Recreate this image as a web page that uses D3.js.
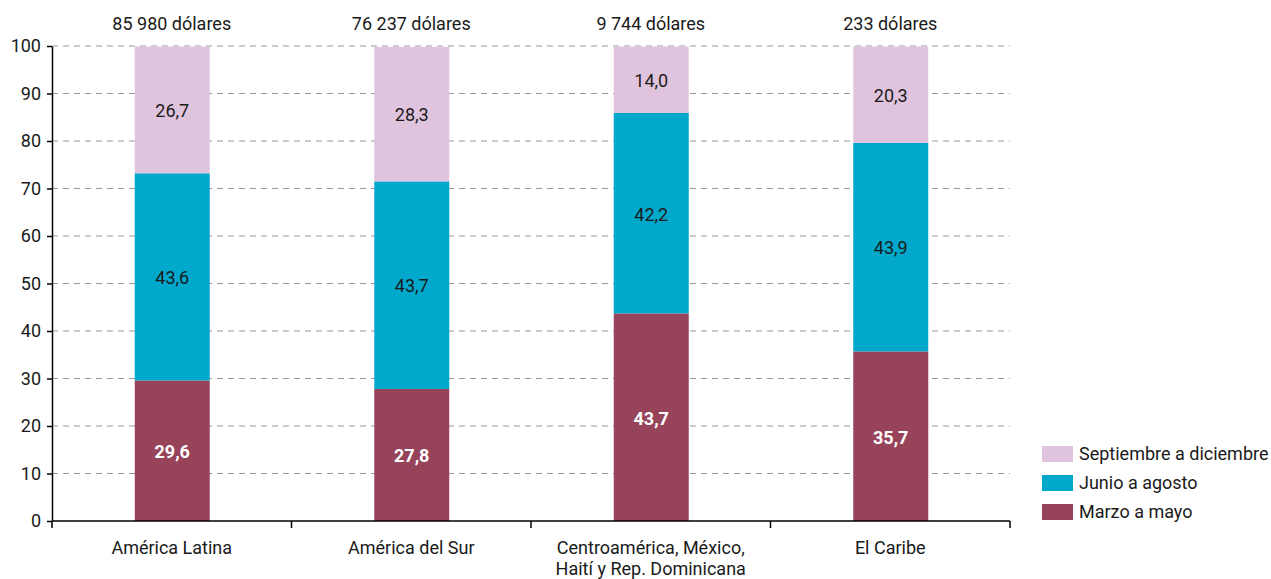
<!DOCTYPE html>
<html><head><meta charset="utf-8">
<script src="https://cdn.jsdelivr.net/npm/d3@7"></script>
<style>
body{margin:0;background:#fff;}
svg text{font-family:"Liberation Sans Narrow","Roboto",sans-serif;fill:#1a1a1a;}
</style></head>
<body><svg id="c" width="1271" height="579"></svg>
<script>
const categories = ["América Latina","América del Sur","Centroamérica, México,\nHaití y Rep. Dominicana","El Caribe"];
const totals = ["85 980 dólares","76 237 dólares","9 744 dólares","233 dólares"];
const seriesNames = ["Marzo a mayo","Junio a agosto","Septiembre a diciembre"];
const marzoMayo = [29.6, 27.8, 43.7, 35.7];
const junioAgosto = [43.6, 43.7, 42.2, 43.9];
const septDic = [26.7, 28.3, 14.0, 20.3];
const yTicks = [0,10,20,30,40,50,60,70,80,90,100];
const colors = ["#97435A","#00A8CC","#E0C4DE"];

(function(){
const svg = d3.select("#c");
const mLeft=52, mRight=1010, mTop=46, mBottom=521;
const x = d3.scaleBand().domain(categories).range([mLeft,mRight]).paddingInner(0).paddingOuter(0);
const y = d3.scaleLinear().domain([0,100]).range([mBottom,mTop]);
const barW = 75;

svg.append("g").selectAll("line").data(yTicks.filter(d=>d>0)).join("line")
  .attr("x1",mLeft).attr("x2",mRight).attr("y1",d=>y(d)).attr("y2",d=>y(d))
  .attr("stroke","#999").attr("stroke-width",1).attr("stroke-dasharray","6,5");

const rows = categories.map((c,i)=>({cat:c, m:marzoMayo[i], j:junioAgosto[i], s:septDic[i]}));
const stack = d3.stack().keys(["m","j","s"])(rows);

const g = svg.append("g");
stack.forEach((layer,li)=>{
  g.append("g").selectAll("rect").data(layer).join("rect")
    .attr("x",d=>x(d.data.cat)+x.bandwidth()/2-barW/2+0.5)
    .attr("width",barW)
    .attr("y",d=>y(d[1]))
    .attr("height",d=>y(d[0])-y(d[1]))
    .attr("fill",colors[li]);
  g.append("g").selectAll("text").data(layer).join("text")
    .attr("x",d=>x(d.data.cat)+x.bandwidth()/2+0.5)
    .attr("y",d=>(y(d[0])+y(d[1]))/2+1)
    .attr("dy","0.35em").attr("text-anchor","middle")
    .attr("font-size",18)
    .attr("font-weight",li===0?"bold":"normal")
    .style("fill",li===0?"#fff":"#1a1a1a")
    .text(d=>(d[1]-d[0]).toFixed(1).replace(".",","));
});

svg.append("g").selectAll("text").data(categories).join("text")
  .attr("x",d=>x(d)+x.bandwidth()/2).attr("y",30)
  .attr("text-anchor","middle").attr("font-size",18)
  .text((d,i)=>totals[i]);

const ya = svg.append("g").attr("transform",`translate(${mLeft},0)`)
  .call(d3.axisLeft(y).tickValues(yTicks).tickSize(5).tickSizeOuter(0).tickPadding(6));
ya.select(".domain").attr("stroke","#000").attr("stroke-width",1.5);
ya.selectAll(".tick line").attr("stroke","#000").attr("stroke-width",1.5);
ya.selectAll("text").attr("font-size",18).style("font-family",'"Liberation Sans Narrow","Roboto",sans-serif').style("fill","#1a1a1a");

const xa = svg.append("g").attr("transform",`translate(0,${mBottom})`);
xa.append("line").attr("x1",mLeft).attr("x2",mRight).attr("stroke","#000").attr("stroke-width",1.5);
const bounds = categories.map(c=>x(c)).concat([x(categories[categories.length-1])+x.bandwidth()]);
xa.selectAll("line.t").data(bounds).join("line").attr("class","t")
  .attr("x1",d=>d).attr("x2",d=>d).attr("y1",0).attr("y2",7).attr("stroke","#000").attr("stroke-width",1.5);
xa.selectAll("text.c").data(categories).join("text").attr("class","c")
  .attr("x",d=>x(d)+x.bandwidth()/2).attr("y",33)
  .attr("text-anchor","middle").attr("font-size",18)
  .each(function(d){
    const lines=d.split("\n");
    d3.select(this).selectAll("tspan").data(lines).join("tspan")
      .attr("x",x(d)+x.bandwidth()/2).attr("dy",(l,i)=>i===0?0:21).text(l=>l);
  });

const legOrder = [2,1,0];
const leg = svg.append("g").attr("transform","translate(1042,446)");
legOrder.forEach((si,k)=>{
  leg.append("rect").attr("x",0).attr("y",k*29).attr("width",31).attr("height",16).attr("fill",colors[si]);
  leg.append("text").attr("x",37).attr("y",k*29+8).attr("dy","0.35em").attr("font-size",18).text(seriesNames[si]);
});
})();
</script></body></html>
